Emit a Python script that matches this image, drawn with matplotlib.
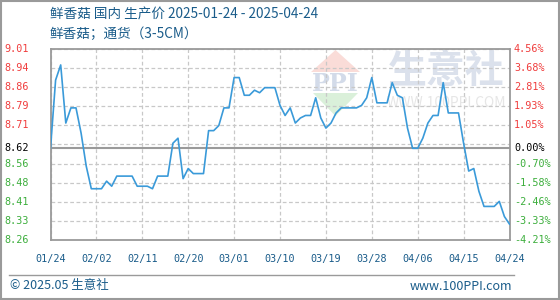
import matplotlib
matplotlib.use("Agg")
import matplotlib.pyplot as plt
import matplotlib.dates as mdates
import matplotlib.transforms as mtrans
from matplotlib.patches import Polygon, Rectangle
import pandas as pd

# ---------------- data ----------------
start_date = "2025-01-24"
end_date = "2025-04-24"
base_price = 8.62

prices = [
    8.62, 8.89, 8.95, 8.72, 8.78, 8.78, 8.68, 8.55, 8.46, 8.46,
    8.46, 8.49, 8.47, 8.51, 8.51, 8.51, 8.51, 8.47, 8.47, 8.47,
    8.46, 8.51, 8.51, 8.51, 8.64, 8.66, 8.50, 8.54, 8.52, 8.52,
    8.52, 8.69, 8.69, 8.71, 8.78, 8.78, 8.90, 8.90, 8.83, 8.83,
    8.85, 8.84, 8.86, 8.86, 8.86, 8.79, 8.75, 8.78, 8.72, 8.74,
    8.75, 8.75, 8.82, 8.74, 8.70, 8.72, 8.76, 8.78, 8.78, 8.78,
    8.78, 8.79, 8.82, 8.90, 8.80, 8.80, 8.80, 8.88, 8.83, 8.82,
    8.70, 8.62, 8.62, 8.66, 8.72, 8.75, 8.75, 8.88, 8.76, 8.76,
    8.76, 8.64, 8.53, 8.54, 8.45, 8.39, 8.39, 8.39, 8.41, 8.35,
    8.32,
]
dates = pd.date_range(start_date, periods=len(prices), freq="D")

left_labels = ["9.01", "8.94", "8.86", "8.79", "8.71", "8.62",
               "8.56", "8.48", "8.41", "8.33", "8.26"]
right_labels = ["4.56%", "3.68%", "2.81%", "1.93%", "1.05%", "0.00%",
                "-0.70%", "-1.58%", "-2.46%", "-3.33%", "-4.21%"]
pct_values = [4.56, 3.68, 2.81, 1.93, 1.05, 0.00,
              -0.70, -1.58, -2.46, -3.33, -4.21]

title1 = "鲜香菇 国内 生产价 2025-01-24 - 2025-04-24"
title2 = "鲜香菇；通货（3-5CM）"
footer_left = "© 2025.05 生意社"
footer_right = "www.100PPI.com"

# ---------------- style ----------------
W, H = 560, 300
plt.rcParams['font.family'] = ['Noto Sans CJK SC', 'DejaVu Sans']
fig = plt.figure(figsize=(W / 100, H / 100), dpi=100)
fig.patch.set_facecolor("white")

def fx(x):
    return x / W

def fy(y):
    return 1 - y / H

ax = fig.add_axes([fx(50.5), fy(240), fx(509.5) - fx(50.5), fy(49) - fy(240)])
ax.patch.set_alpha(0)

line_color = "#3a9ad9"
blue_text = "#1a5c8a"
red = "#f03c3c"
green = "#3cae3c"
grid_c = "#c8c8c8"
spine_c = "#9a9a9a"

ymin = base_price * (1 + pct_values[-1] / 100)
ymax = base_price * (1 + pct_values[0] / 100)
ax.set_ylim(ymin, ymax)
ax.set_xlim(pd.Timestamp(start_date), pd.Timestamp(end_date))

# grid
n_grid = 10
grid_y = [ymin + (ymax - ymin) * k / n_grid for k in range(n_grid + 1)]
ax.set_yticks(grid_y)
xt = pd.date_range(start_date, end_date, freq="9D")
ax.set_xticks(xt)
ax.xaxis.set_major_formatter(mdates.DateFormatter("%m/%d"))
ax.tick_params(axis="both", length=0)
ax.tick_params(axis="y", labelleft=False)
ax.tick_params(axis="x", labelsize=7.3, colors=blue_text, pad=10)
for lab in ax.get_xticklabels():
    lab.set_family("DejaVu Sans Mono")
ax.grid(True, color=grid_c, linestyle=(0, (3, 2)), linewidth=0.9)
ax.set_axisbelow(True)
for s in ax.spines.values():
    s.set_color(spine_c)
    s.set_linewidth(1.3)

ax.axhline(base_price, color=spine_c, linewidth=1.5, zorder=1)

ax.plot(dates, prices, color=line_color, linewidth=1.2, zorder=3)

# y labels (left prices, right percentages)
tl = mtrans.blended_transform_factory(fig.transFigure, ax.transData)
for lab_l, lab_r, p in zip(left_labels, right_labels, pct_values):
    yv = base_price * (1 + p / 100)
    c = red if p > 0 else ("black" if p == 0 else green)
    ax.text(fx(4.5), yv, lab_l, transform=tl, ha="left", va="center",
            fontsize=7.3, color=c, family="DejaVu Sans Mono")
    ax.text(fx(514), yv, lab_r, transform=tl, ha="left", va="center",
            fontsize=7.3, color=c, family="DejaVu Sans Mono")

# watermark
wm = "#dbe1ec"
ax.add_patch(Polygon([(fx(311), fy(72)), (fx(360), fy(72)), (fx(335.5), fy(50))],
                     closed=True, transform=fig.transFigure, facecolor="#fadcd8",
                     edgecolor="none", zorder=0.1, clip_on=False))
ax.add_patch(Polygon([(fx(313), fy(93)), (fx(358), fy(93)), (fx(335.5), fy(116))],
                     closed=True, transform=fig.transFigure, facecolor="#daf0da",
                     edgecolor="none", zorder=0.1, clip_on=False))
ax.text(fx(335.5), fy(84), "PPI", transform=fig.transFigure, ha="center", va="center",
        fontsize=17, color="#d3dbe9", family="DejaVu Serif", fontweight="bold",
        zorder=0.2)
ax.text(fx(446), fy(71), "生意社", transform=fig.transFigure, ha="center", va="center",
        fontsize=28, color=wm, fontweight="bold", zorder=0.2)
ax.text(fx(446), fy(103), "WWW.100PPI.COM", transform=fig.transFigure, ha="center",
        va="center", fontsize=10, color="#e6e6e6", zorder=0.2)

# titles
fig.text(fx(50), fy(14.5), title1, ha="left", va="center", fontsize=9.8, color=blue_text)
fig.text(fx(50), fy(34), title2, ha="left", va="center", fontsize=9.8, color=blue_text)

# footer
fig.add_artist(plt.Line2D([fx(9), fx(514)], [fy(275), fy(275)], color=spine_c,
                          linewidth=1.0, transform=fig.transFigure))
fig.text(fx(10), fy(286), footer_left, ha="left", va="center", fontsize=9, color=blue_text)
fig.text(fx(512), fy(286), footer_right, ha="right", va="center", fontsize=9, color=blue_text)

# outer border
fig.add_artist(Rectangle((0.001, 0.002), 0.997, 0.996, transform=fig.transFigure,
                         fill=False, edgecolor=spine_c, linewidth=1.5))

fig.savefig("out.png", dpi=100, facecolor="white")
